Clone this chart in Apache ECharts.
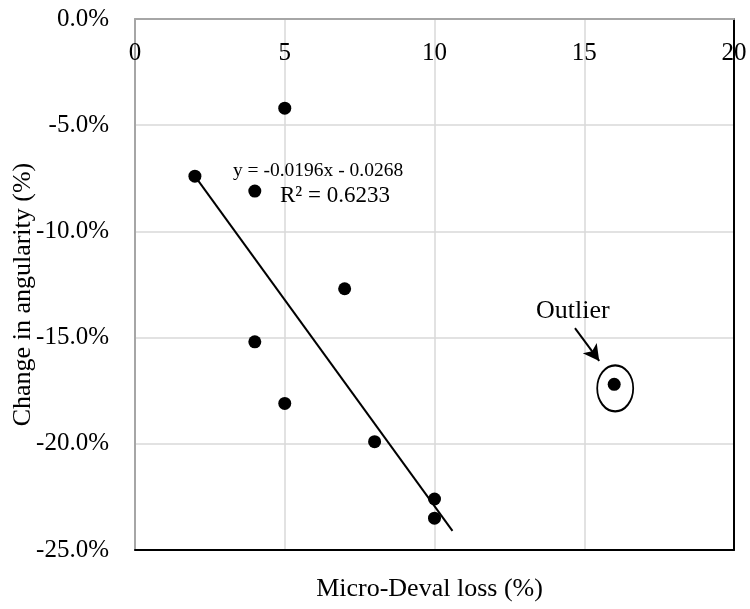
<!DOCTYPE html>
<html>
<head>
<meta charset="utf-8">
<script src="https://cdn.jsdelivr.net/npm/echarts@6/dist/echarts.min.js"></script>
<style>html,body{margin:0;padding:0;background:#fff;}#c{width:750px;height:609px;}</style>
</head>
<body>
<div id="c"></div>
<script>
// Data
const xValues = [2, 4, 5, 7, 4, 5, 8, 10, 10, 16];           // Micro-Deval loss (%)
const yValues = [-7.4, -8.1, -4.2, -12.7, -15.2, -18.1, -19.9, -22.6, -23.5, -17.2]; // change in angularity (%)
const outlierX = [16];
const outlierY = [-17.2];
const trendX = [2, 10.6];
const trendY = [-7.4, -24.1];
const eqText = ['y = -0.0196x - 0.0268', 'R² = 0.6233'];
const eqX = [3.27, 4.84];
const eqY = [-7.16, -8.33];
const outlierLabel = 'Outlier';
const outlierLabelPos = [14.62, -13.75];
const arrowFrom = [14.69, -14.55];
const arrowTo = [15.5, -16.1];
const xTicks = {min: 0, max: 20, interval: 5};
const yTicks = {min: -25, max: 0, interval: 5};

const FONT = '"Liberation Serif", "Times New Roman", serif';
const eqFontSizes = [19.5, 23];
const chart = echarts.init(document.getElementById('c'), null, {renderer: 'canvas'});
const pts = xValues.map((x, i) => [x, yValues[i]]);
const trend = trendX.map((x, i) => [x, trendY[i]]);
const eqPts = eqX.map((x, i) => ({value: [x, eqY[i]], label: {formatter: eqText[i], fontSize: eqFontSizes[i]}}));

chart.setOption({
  animation: false,
  backgroundColor: '#fff',
  grid: {left: 135, top: 19, right: 16, bottom: 59, outerBoundsMode: 'none', containLabel: false},
  xAxis: [{
    type: 'value', position: 'top', min: xTicks.min, max: xTicks.max, interval: xTicks.interval,
    axisLine: {onZero: false, lineStyle: {color: '#a6a6a6', width: 2}},
    axisTick: {show: false},
    axisLabel: {inside: true, margin: 22, color: '#000', fontFamily: FONT, fontSize: 25, showMinLabel: true, showMaxLabel: true},
    splitLine: {show: true, lineStyle: {color: '#d9d9d9', width: 1.5}}
  }, {
    type: 'value', position: 'bottom', min: xTicks.min, max: xTicks.max, interval: xTicks.interval,
    axisLine: {onZero: false, lineStyle: {color: '#000', width: 2}},
    axisTick: {show: false}, axisLabel: {show: false}, splitLine: {show: false},
    name: 'Micro-Deval loss (%)', nameLocation: 'middle', nameGap: 26, nameMoveOverlap: false,
    nameTextStyle: {color: '#000', fontFamily: FONT, fontSize: 26, padding: [0, 10, 0, 0]}
  }],
  yAxis: [{
    type: 'value', position: 'left', min: yTicks.min, max: yTicks.max, interval: yTicks.interval,
    axisLine: {onZero: false, lineStyle: {color: '#a6a6a6', width: 2}},
    axisTick: {show: false},
    axisLabel: {margin: 26, color: '#000', fontFamily: FONT, fontSize: 25, formatter: v => v.toFixed(1) + '%'},
    splitLine: {show: true, lineStyle: {color: '#d9d9d9', width: 1.5}},
    name: 'Change in angularity (%)', nameLocation: 'middle', nameGap: 99, nameMoveOverlap: false,
    nameTextStyle: {color: '#000', fontFamily: FONT, fontSize: 26, padding: [0, 20, 0, 0]}
  }, {
    type: 'value', position: 'right', min: yTicks.min, max: yTicks.max, interval: yTicks.interval,
    axisLine: {onZero: false, lineStyle: {color: '#000', width: 2}},
    axisTick: {show: false}, axisLabel: {show: false}, splitLine: {show: false}
  }],
  series: [{
    type: 'line', data: trend, showSymbol: false, symbol: 'none',
    lineStyle: {color: '#000', width: 2}, z: 3
  }, {
    type: 'scatter', data: pts, symbolSize: 13,
    itemStyle: {color: '#000', opacity: 1}, z: 4
  }, {
    type: 'scatter', data: outlierX.map((x, i) => [x, outlierY[i]]),
    symbol: 'circle', symbolSize: [36, 46], symbolOffset: [1, 4],
    itemStyle: {color: 'rgba(0,0,0,0)', borderColor: '#000', borderWidth: 2, opacity: 1}, z: 4,
    markLine: {
      silent: true, symbol: ['none', 'arrow'], symbolSize: [13, 16],
      lineStyle: {color: '#000', width: 2, type: 'solid', opacity: 1},
      itemStyle: {color: '#000'},
      label: {show: false},
      data: [[{coord: arrowFrom}, {coord: arrowTo}]]
    }
  }, {
    type: 'scatter', data: eqPts, symbolSize: 0,
    itemStyle: {opacity: 1},
    label: {show: true, position: 'right', distance: 0, color: '#000', fontFamily: FONT, fontSize: 21, textBorderWidth: 0},
    z: 5
  }, {
    type: 'scatter', data: [{value: outlierLabelPos, label: {formatter: outlierLabel}}], symbolSize: 0,
    itemStyle: {opacity: 1},
    label: {show: true, position: 'inside', color: '#000', fontFamily: FONT, fontSize: 26, textBorderWidth: 0},
    z: 5
  }]
});
</script>
</body>
</html>
